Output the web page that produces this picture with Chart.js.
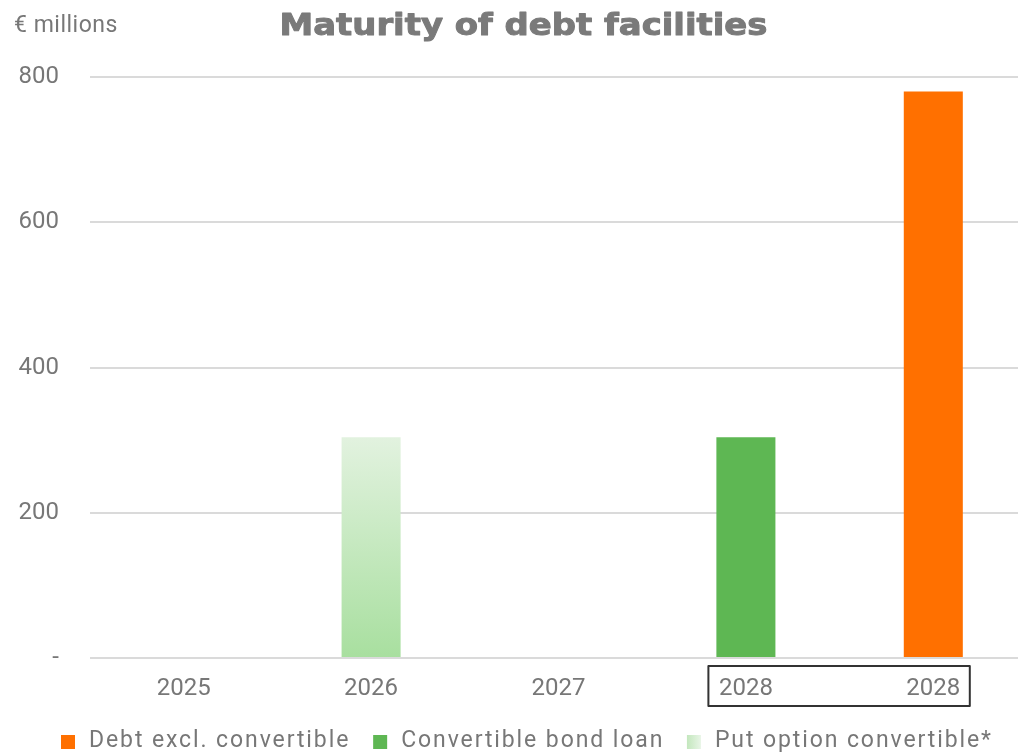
<!DOCTYPE html>
<html>
<head>
<meta charset="utf-8">
<script src="https://cdn.jsdelivr.net/npm/chart.js@4.4.1/dist/chart.umd.min.js"></script>
<style>
  html, body { margin: 0; padding: 0; overflow: hidden; background: #fff; }
  #wrap { position: relative; width: 1047px; height: 754px; }
</style>
</head>
<body>
<div id="wrap"><canvas id="c"></canvas></div>
<script>
// ---- data ----
const categories = ['2025', '2026', '2027', '2028', '2028'];
const debtExclConvertible = [null, null, null, null, 780];
const convertibleBondLoan = [null, null, null, 304, null];
const putOptionConvertible = [null, 304, null, null, null];
const yTicks = [0, 200, 400, 600, 800];
const seriesNames = ['Debt excl. convertible', 'Convertible bond loan', 'Put option convertible*'];
const titleText = 'Maturity of debt facilities';
const unitText = '€ millions';

const GREY = '#777777';
const ORANGE = '#ff7000';
const GREEN = '#5eb753';

function lightGreenGradient(ctx) {
  const chart = ctx.chart;
  const area = chart.chartArea;
  if (!area) return '#c9e9c3';
  const top = chart.scales.y.getPixelForValue(304);
  const g = chart.ctx.createLinearGradient(0, top, 0, area.bottom);
  g.addColorStop(0, '#e2f2df');
  g.addColorStop(1, '#a8df9f');
  return g;
}

function spacedWidth(ctx, text, sp) {
  let w = 0;
  for (const ch of text) w += ctx.measureText(ch).width;
  return w + sp * (text.length - 1);
}
function fillSpaced(ctx, text, x, y, sp) {
  if ('letterSpacing' in ctx) {
    ctx.letterSpacing = sp + 'px';
    ctx.fillText(text, x, y);
    ctx.letterSpacing = '0px';
  } else {
    let cx = x;
    for (const ch of text) { ctx.fillText(ch, cx, y); cx += ctx.measureText(ch).width + sp; }
  }
}

const extras = {
  id: 'extras',
  afterDraw(chart) {
    const ctx = chart.ctx;
    const x = chart.scales.x;
    ctx.save();
    ctx.textAlign = 'left';

    // title (wide, heavy)
    ctx.fillStyle = '#7a7a7a';
    ctx.strokeStyle = '#7a7a7a';
    ctx.lineWidth = 1.0;
    ctx.lineJoin = 'round';
    ctx.font = 'bold 31px "DejaVu Sans"';
    ctx.textBaseline = 'alphabetic';
    const tw = ctx.measureText(titleText).width;
    const sx = 488 / tw;
    ctx.save();
    ctx.translate(523.5, 35);
    ctx.scale(sx, 1);
    ctx.textAlign = 'center';
    ctx.fillText(titleText, 0, 0);
    ctx.strokeText(titleText, 0, 0);
    ctx.restore();

    // unit label
    ctx.fillStyle = GREY;
    ctx.font = '23px Roboto';
    ctx.textBaseline = 'middle';
    fillSpaced(ctx, unitText, 14, 26, 0.5);

    // box around the two 2028 labels
    const l = x.getPixelForValue(3) - 37.5;
    const r = x.getPixelForValue(4) + 36.5;
    ctx.strokeStyle = '#333333';
    ctx.lineWidth = 2;
    ctx.strokeRect(l, 666, r - l, 40);

    // legend
    ctx.font = '23px Roboto';
    const sp = 1.9, box = 14, gapText = 14, gapItem = 25;
    const ds = chart.data.datasets;
    let cx = 61;
    const cy = 741;
    ds.forEach((d, i) => {
      let fill;
      if (i === 2) {
        fill = ctx.createLinearGradient(cx, 0, cx + box, 0);
        fill.addColorStop(0, '#c3e7bd');
        fill.addColorStop(1, '#e8f5e6');
      } else {
        fill = d.backgroundColor;
      }
      ctx.fillStyle = fill;
      ctx.fillRect(cx, cy - box / 2 + 1, box, box);
      cx += box + gapText;
      ctx.fillStyle = GREY;
      fillSpaced(ctx, d.label, cx, cy, sp);
      cx += spacedWidth(ctx, d.label, sp) + gapItem;
    });
    ctx.restore();
  }
};

new Chart(document.getElementById('c'), {
  type: 'bar',
  data: {
    labels: categories,
    datasets: [
      { label: seriesNames[0], data: debtExclConvertible, backgroundColor: ORANGE },
      { label: seriesNames[1], data: convertibleBondLoan, backgroundColor: GREEN },
      { label: seriesNames[2], data: putOptionConvertible, backgroundColor: lightGreenGradient }
    ]
  },
  options: {
    responsive: true,
    maintainAspectRatio: false,
    animation: false,
    devicePixelRatio: 1,
    layout: { padding: { left: 0, right: 20, top: 77, bottom: 0 } },
    datasets: { bar: { barPercentage: 0.315, categoryPercentage: 1, borderWidth: 0 } },
    scales: {
      x: {
        stacked: true,
        afterFit(s) { s.height = 96; },
        grid: { display: false },
        border: { display: false },
        ticks: { color: GREY, font: { family: 'Roboto', size: 24 }, padding: 9, maxRotation: 0, autoSkip: false }
      },
      y: {
        stacked: true,
        min: 0, max: 800,
        afterBuildTicks(s) { s.ticks = yTicks.map(v => ({ value: v })); },
        afterFit(s) { s.width = 90; },
        grid: { color: '#dadada', lineWidth: 2, drawTicks: false },
        border: { display: false },
        ticks: {
          color: GREY, font: { family: 'Roboto', size: 24 }, padding: 31,
          callback: v => (v === 0 ? '-' : String(v))
        }
      }
    },
    plugins: {
      title: { display: false },
      legend: { display: false },
      tooltip: { enabled: false }
    }
  },
  plugins: [extras]
});
</script>
</body>
</html>
